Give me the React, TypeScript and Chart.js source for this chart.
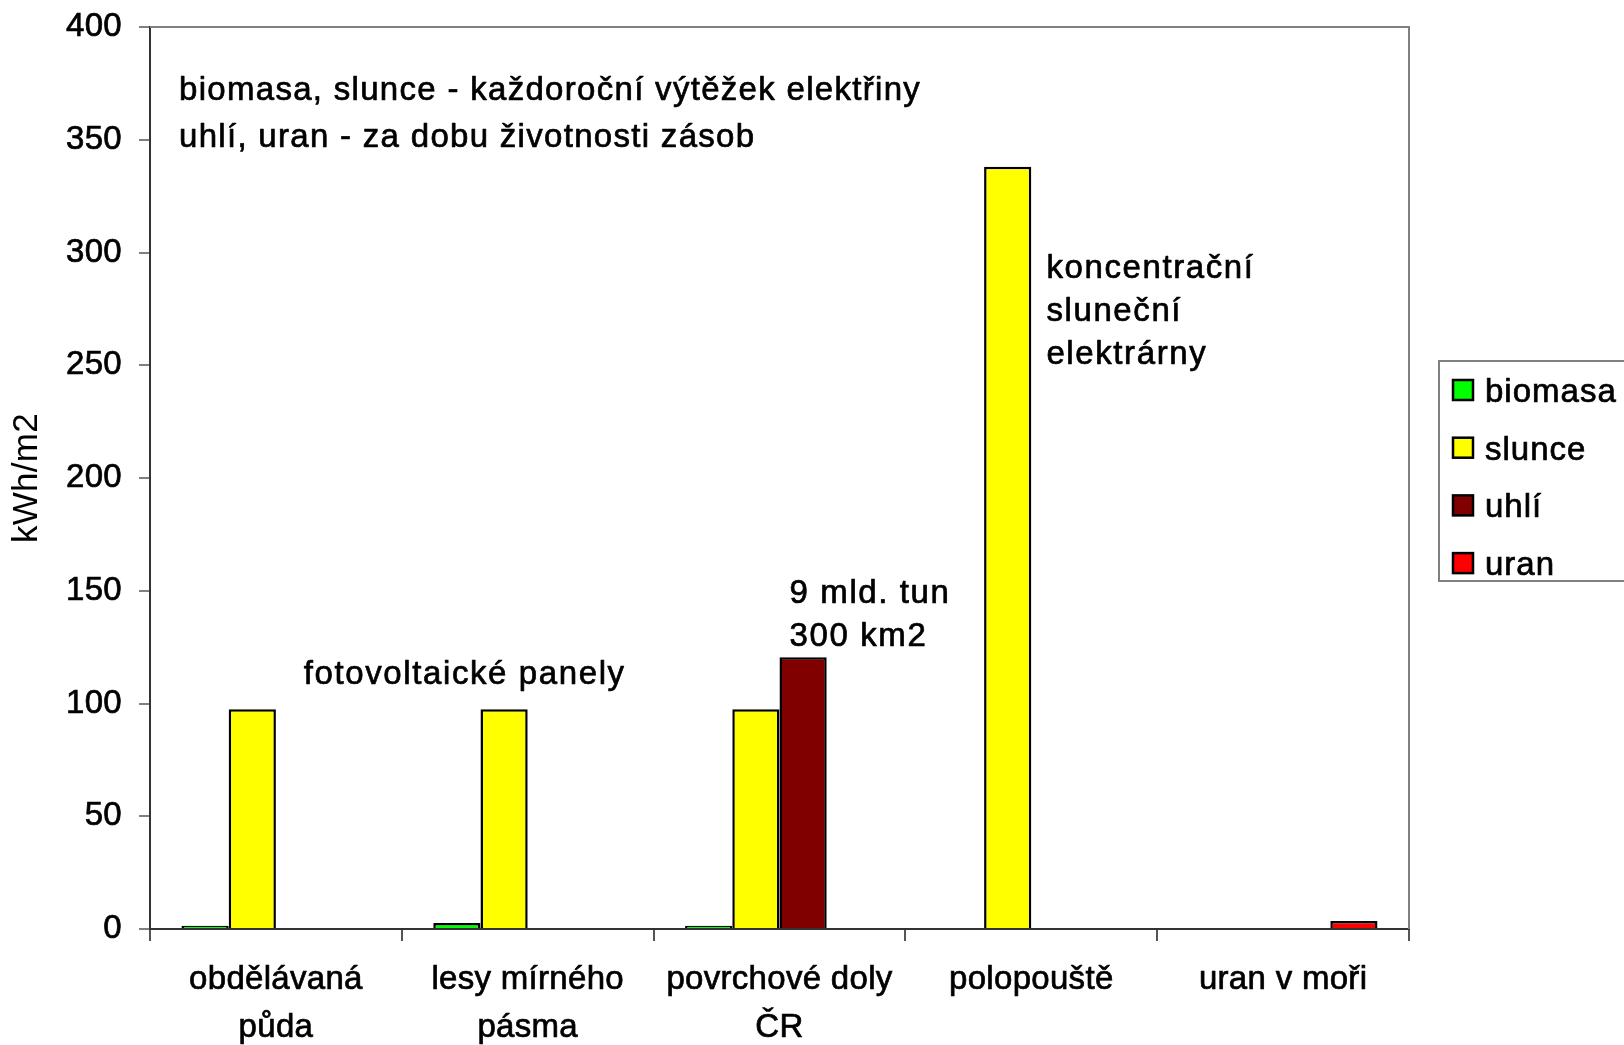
import React, { useEffect, useRef } from "react";
import { Chart, registerables } from "chart.js";

Chart.register(...registerables);

// ---------- data ----------
const categories: string[][] = [
  ["obdělávaná", "půda"],
  ["lesy mírného", "pásma"],
  ["povrchové doly", "ČR"],
  ["polopouště"],
  ["uran v moři"],
];
const seriesNames = ["biomasa", "slunce", "uhlí", "uran"];
const biomasa: (number | null)[] = [1.4, 2.7, 1.4, null, null];
const slunce: (number | null)[] = [97.5, 97.5, 97.5, 338, null];
const uhli: (number | null)[] = [null, null, 120.5, null, null];
const uran: (number | null)[] = [null, null, null, null, 3.5];
const seriesColors = ["#00FF00", "#FFFF00", "#800000", "#FF0000"];
const yTickValues = [0, 50, 100, 150, 200, 250, 300, 350, 400];
const yTitle = "kWh/m2";
const headerLines = [
  "biomasa, slunce - každoroční výtěžek elektřiny",
  "uhlí, uran - za dobu životnosti zásob",
];
const pvNote = ["fotovoltaické panely"];
const coalNote = ["9 mld. tun", "300 km2"];
const cspNote = ["koncentrační", "sluneční", "elektrárny"];

const FAMILY = '"Liberation Sans", Arial, Helvetica, sans-serif';

const spacingPlugin = {
  id: "spacing",
  beforeLayout(chart: any) {
    chart.ctx.letterSpacing = "0.3px";
  },
  beforeDraw(chart: any) {
    chart.ctx.letterSpacing = "0.3px";
  },
};

function drawText(ctx: any, t: string, x: number, y: number) {
  ctx.strokeText(t, x, y);
  ctx.fillText(t, x, y);
}

const notesPlugin = {
  id: "notes",
  afterDatasetsDraw(chart: any) {
    const { ctx, chartArea } = chart;
    const x = chart.scales.x;
    const y = chart.scales.y;
    const cw = chartArea.width / categories.length;
    ctx.save();
    ctx.fillStyle = "#000";
    ctx.strokeStyle = "#000";
    ctx.lineWidth = 0.7;
    ctx.lineJoin = "round";
    ctx.textBaseline = "alphabetic";
    ctx.font = `33px ${FAMILY}`;

    // header (left aligned)
    ctx.letterSpacing = "1.3px";
    ctx.textAlign = "left";
    const headerVals = [367.6, 347];
    headerLines.forEach((t, i) => {
      drawText(ctx, t, chartArea.left + 29, y.getPixelForValue(headerVals[i]));
    });

    ctx.letterSpacing = "1.6px";
    // PV note centered between first two categories
    ctx.textAlign = "center";
    pvNote.forEach((t) => {
      drawText(ctx, t, x.getPixelForValue(0) + 0.75 * cw, y.getPixelForValue(108.8));
    });

    // coal note
    ctx.textAlign = "left";
    const coalVals = [144.6, 125.5];
    coalNote.forEach((t, i) => {
      drawText(ctx, t, x.getPixelForValue(2) + 0.04 * cw, y.getPixelForValue(coalVals[i]));
    });

    // CSP note
    const cspVals = [288.7, 269.6, 250.5];
    cspNote.forEach((t, i) => {
      drawText(ctx, t, x.getPixelForValue(3) + 0.06 * cw, y.getPixelForValue(cspVals[i]));
    });
    ctx.restore();
  },
};

const framePlugin = {
  id: "frame",
  afterDraw(chart: any) {
    const { ctx, chartArea } = chart;
    ctx.save();
    ctx.strokeStyle = "#808080";
    ctx.lineWidth = 2;
    ctx.beginPath();
    ctx.moveTo(chartArea.left, chartArea.top);
    ctx.lineTo(chartArea.right, chartArea.top);
    ctx.lineTo(chartArea.right, chartArea.bottom);
    ctx.stroke();
    ctx.restore();
  },
};

const legendPlugin = {
  id: "boxLegend",
  afterDraw(chart: any) {
    const { ctx, chartArea } = chart;
    const left = chartArea.right + 30;
    const top = (chartArea.top + chartArea.bottom) / 2 - 117;
    const height = 220;
    ctx.save();
    ctx.fillStyle = "#fff";
    ctx.fillRect(left, top, chart.width - left + 10, height);
    ctx.strokeStyle = "#808080";
    ctx.lineWidth = 2;
    ctx.strokeRect(left, top, chart.width - left + 10, height);
    ctx.font = `33px ${FAMILY}`;
    ctx.letterSpacing = "1px";
    ctx.textAlign = "left";
    ctx.textBaseline = "alphabetic";
    chart.data.datasets.forEach((ds: any, i: number) => {
      const cy = top + 29 + i * 57.7;
      ctx.fillStyle = ds.backgroundColor;
      ctx.fillRect(left + 14, cy - 10, 20, 20);
      ctx.strokeStyle = "#000";
      ctx.lineWidth = 2.5;
      ctx.strokeRect(left + 14, cy - 10, 20, 20);
      ctx.fillStyle = "#000";
      ctx.lineWidth = 0.7;
      drawText(ctx, ds.label, left + 46, cy + 12);
    });
    ctx.restore();
  },
};

export default function App() {
  const canvasRef = useRef<HTMLCanvasElement | null>(null);

  useEffect(() => {
    if (!canvasRef.current) return;
    const seriesData = [biomasa, slunce, uhli, uran];
    const chart = new Chart(canvasRef.current, {
      type: "bar",
      data: {
        labels: categories,
        datasets: seriesNames.map((name, i) => ({
          label: name,
          data: seriesData[i],
          backgroundColor: seriesColors[i],
          borderColor: "#000",
          borderWidth: 2.5,
          borderSkipped: "start",
          categoryPercentage: 0.75,
          barPercentage: 1,
        })),
      },
      options: {
        animation: false,
        responsive: false,
        devicePixelRatio: 1,
        layout: { padding: { top: 27, right: 215, left: 0, bottom: 0 } },
        plugins: {
          legend: { display: false },
          tooltip: { enabled: false },
          title: { display: false },
        },
        font: { family: FAMILY },
        scales: {
          x: {
            ticks: {
              font: { family: FAMILY, size: 33, lineHeight: 1.45 },
              color: "#000",
              padding: 15,
              maxRotation: 0,
              autoSkip: false,
              textStrokeColor: "#000",
              textStrokeWidth: 0.7,
            },
            grid: {
              offset: true,
              drawOnChartArea: false,
              drawTicks: true,
              tickLength: 12,
              color: "#555",
              lineWidth: 2,
            },
            border: { display: true, color: "#333", width: 2 },
            afterFit: (s: any) => {
              s.height = 116;
            },
          },
          y: {
            min: 0,
            max: 400,
            afterBuildTicks: (s: any) => {
              s.ticks = yTickValues.map((v) => ({ value: v }));
            },
            ticks: {
              font: { family: FAMILY, size: 33 },
              color: "#000",
              padding: 17,
              textStrokeColor: "#000",
              textStrokeWidth: 0.7,
            },
            grid: {
              drawOnChartArea: false,
              drawTicks: true,
              tickLength: 11,
              color: "#808080",
              lineWidth: 2,
            },
            border: { display: true, color: "#333", width: 2 },
            title: {
              display: true,
              text: yTitle,
              color: "#000",
              font: { family: FAMILY, size: 35 },
              padding: { top: 6, bottom: 0 },
            },
            afterFit: (s: any) => {
              s.width = 150;
              s.paddingTop = 0;
              s.paddingBottom = 0;
            },
          },
        },
      } as any,
      plugins: [spacingPlugin, notesPlugin, framePlugin, legendPlugin],
    });
    return () => chart.destroy();
  }, []);

  return (
    <div style={{ position: "absolute", left: 0, top: 0, width: 1624, height: 1045, background: "#fff" }}>
      <canvas ref={canvasRef} width={1624} height={1045} style={{ display: "block" }} />
    </div>
  );
}
